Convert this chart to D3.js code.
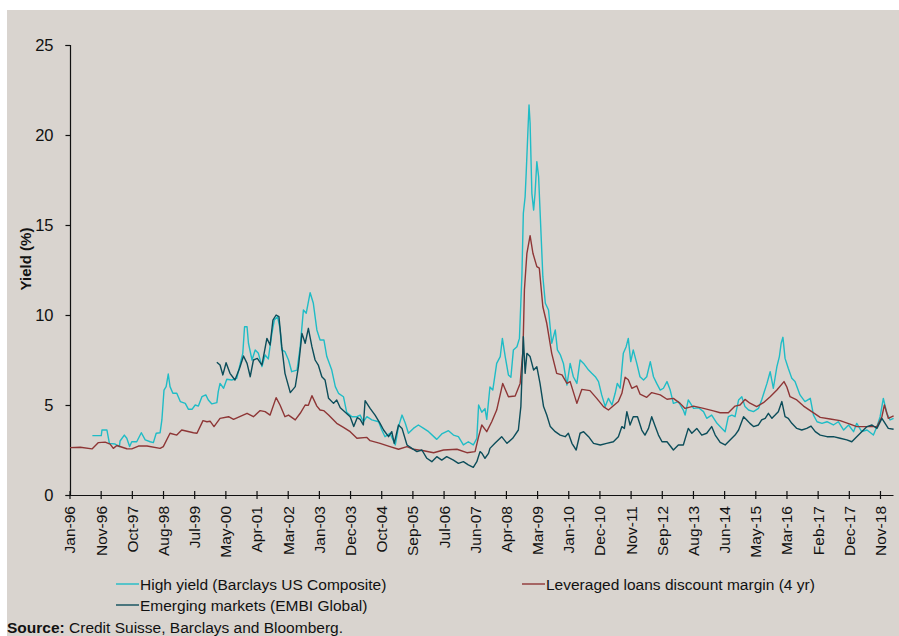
<!DOCTYPE html>
<html>
<head>
<meta charset="utf-8">
<script src="https://cdn.jsdelivr.net/npm/d3@7"></script>
<style>
  html, body { margin: 0; padding: 0; background: #ffffff; }
  svg { display: block; }
  text { font-family: "Liberation Sans", Arial, Helvetica, sans-serif; fill: #111; }
</style>
</head>
<body>
<svg id="chart" width="899" height="636"></svg>
<script>
// Axis tick labels (Excel-style date axis: one major tick every 321 days)
const tickLabels = ["Jan-96","Nov-96","Oct-97","Aug-98","Jul-99","May-00","Apr-01","Mar-02",
  "Jan-03","Dec-03","Oct-04","Sep-05","Jul-06","Jun-07","Apr-08","Mar-09","Jan-10","Dec-10",
  "Nov-11","Sep-12","Aug-13","Jun-14","May-15","Mar-16","Feb-17","Dec-17","Nov-18"];
const tickStepDays = 321;
const yTicks = [0, 5, 10, 15, 20, 25];

// Series: [decimal year, yield %]
const highYield = [
  [1996.66,3.30],[1996.91,3.30],[1996.93,3.61],[1997.07,3.61],[1997.14,2.87],[1997.30,2.83],
  [1997.42,2.69],[1997.44,3.00],[1997.56,3.33],[1997.63,3.15],[1997.71,2.69],[1997.77,2.96],
  [1997.91,2.96],[1998.04,3.46],[1998.15,3.06],[1998.29,2.96],[1998.38,2.91],[1998.46,3.43],
  [1998.57,3.46],[1998.62,4.17],[1998.68,5.83],[1998.74,6.02],[1998.80,6.72],[1998.85,6.02],
  [1998.93,5.65],[1999.04,5.65],[1999.14,5.19],[1999.28,5.09],[1999.37,4.76],[1999.47,4.76],
  [1999.56,5.00],[1999.65,4.94],[1999.75,5.46],[1999.86,5.56],[1999.93,5.28],[2000.03,5.06],
  [2000.17,5.13],[2000.21,5.74],[2000.26,6.20],[2000.36,5.93],[2000.45,6.43],[2000.59,6.39],
  [2000.73,6.48],[2000.83,7.31],[2000.90,7.87],[2000.95,9.35],[2001.02,9.35],[2001.06,8.43],
  [2001.16,7.50],[2001.25,8.06],[2001.34,7.87],[2001.44,7.13],[2001.53,7.78],[2001.62,7.56],
  [2001.72,8.98],[2001.79,9.72],[2001.88,9.91],[2001.95,9.26],[2002.00,8.06],[2002.09,7.96],
  [2002.19,7.50],[2002.28,6.85],[2002.43,6.94],[2002.52,8.24],[2002.61,10.28],[2002.69,10.10],
  [2002.80,11.24],[2002.89,10.65],[2002.99,9.17],[2003.08,8.61],[2003.19,8.61],[2003.27,7.69],
  [2003.41,6.94],[2003.51,6.02],[2003.60,5.65],[2003.74,5.46],[2003.83,4.60],[2003.98,4.35],
  [2004.12,4.35],[2004.21,4.44],[2004.30,4.07],[2004.40,4.35],[2004.54,4.17],[2004.73,4.07],
  [2004.82,3.61],[2004.91,3.24],[2005.05,3.43],[2005.20,2.78],[2005.29,3.80],[2005.39,4.44],
  [2005.48,4.00],[2005.57,3.43],[2005.71,3.70],[2005.85,3.89],[2006.00,3.70],[2006.14,3.52],
  [2006.37,3.09],[2006.51,3.39],[2006.70,3.57],[2006.84,3.33],[2006.98,3.24],[2007.12,2.78],
  [2007.26,2.96],[2007.40,2.78],[2007.50,3.15],[2007.55,5.00],[2007.64,4.60],[2007.73,4.80],
  [2007.78,4.20],[2007.87,6.00],[2007.95,5.83],[2008.06,7.31],[2008.16,7.69],[2008.22,8.70],
  [2008.30,7.69],[2008.39,6.67],[2008.46,6.54],[2008.53,8.06],[2008.63,8.24],[2008.70,8.70],
  [2008.77,12.22],[2008.81,15.65],[2008.86,16.57],[2008.89,17.87],[2008.94,20.28],[2008.97,21.67],
  [2009.00,20.65],[2009.05,16.76],[2009.10,15.83],[2009.14,16.76],[2009.19,18.52],[2009.24,17.69],
  [2009.28,15.83],[2009.36,12.13],[2009.43,10.65],[2009.52,10.28],[2009.61,8.43],[2009.71,9.17],
  [2009.77,8.06],[2009.85,7.80],[2009.94,7.31],[2010.04,6.11],[2010.13,7.31],[2010.22,6.57],
  [2010.32,6.20],[2010.41,7.50],[2010.51,7.31],[2010.65,6.94],[2010.74,6.76],[2010.84,6.57],
  [2010.93,6.30],[2011.02,5.56],[2011.12,4.91],[2011.21,5.37],[2011.31,5.00],[2011.40,5.65],
  [2011.46,6.20],[2011.54,5.93],[2011.63,7.87],[2011.71,8.24],[2011.77,8.70],[2011.84,7.41],
  [2011.91,8.06],[2012.01,7.31],[2012.10,6.57],[2012.20,6.39],[2012.29,6.57],[2012.39,7.41],
  [2012.48,6.57],[2012.57,6.20],[2012.67,5.83],[2012.76,5.93],[2012.86,6.30],[2012.95,5.83],
  [2013.04,5.09],[2013.18,5.19],[2013.32,4.72],[2013.37,4.44],[2013.46,5.28],[2013.61,4.81],
  [2013.75,4.85],[2013.89,4.63],[2013.98,4.26],[2014.12,4.44],[2014.27,3.98],[2014.41,3.70],
  [2014.50,3.52],[2014.59,4.35],[2014.69,4.44],[2014.78,4.35],[2014.88,5.28],[2014.97,5.46],
  [2015.06,4.91],[2015.16,4.72],[2015.30,4.63],[2015.44,4.81],[2015.53,5.28],[2015.68,6.20],
  [2015.77,6.85],[2015.86,5.93],[2015.96,7.13],[2016.03,7.69],[2016.08,8.43],[2016.13,8.76],
  [2016.19,7.59],[2016.28,7.04],[2016.38,6.48],[2016.47,6.30],[2016.61,5.56],[2016.75,5.19],
  [2016.90,5.37],[2016.99,4.44],[2017.09,4.07],[2017.23,3.98],[2017.37,4.07],[2017.55,3.89],
  [2017.69,4.07],[2017.84,3.61],[2017.98,3.89],[2018.12,3.52],[2018.21,3.98],[2018.35,3.52],
  [2018.50,3.61],[2018.68,3.33],[2018.78,3.80],[2018.87,4.35],[2018.96,5.37],[2019.06,4.54],
  [2019.15,4.17],[2019.25,4.26]
];

const leveragedLoans = [
  [1996.03,2.63],[1996.32,2.65],[1996.65,2.56],[1996.83,2.91],[1997.02,2.94],[1997.16,2.83],
  [1997.25,2.59],[1997.35,2.75],[1997.63,2.57],[1997.77,2.56],[1997.96,2.72],[1998.20,2.72],
  [1998.57,2.59],[1998.66,2.69],[1998.85,3.43],[1999.04,3.33],[1999.18,3.61],[1999.51,3.46],
  [1999.61,3.43],[1999.78,4.13],[1999.89,4.07],[1999.98,4.10],[2000.09,3.80],[2000.26,4.26],
  [2000.50,4.35],[2000.64,4.20],[2001.02,4.54],[2001.20,4.35],[2001.39,4.69],[2001.53,4.63],
  [2001.67,4.44],[2001.84,5.41],[2001.95,5.00],[2002.09,4.35],[2002.19,4.44],[2002.38,4.17],
  [2002.52,4.54],[2002.66,5.00],[2002.75,4.98],[2002.85,5.52],[2002.99,4.94],[2003.08,4.72],
  [2003.18,4.69],[2003.32,4.44],[2003.55,3.98],[2003.74,3.76],[2003.93,3.52],[2004.12,3.15],
  [2004.40,3.20],[2004.49,3.02],[2004.77,2.87],[2005.05,2.69],[2005.29,2.54],[2005.53,2.69],
  [2005.71,2.54],[2006.00,2.46],[2006.28,2.35],[2006.56,2.50],[2006.94,2.54],[2007.22,2.35],
  [2007.45,2.41],[2007.55,3.24],[2007.64,3.89],[2007.78,3.52],[2007.92,4.07],[2008.06,4.72],
  [2008.23,6.20],[2008.39,5.46],[2008.58,5.50],[2008.72,6.20],[2008.80,8.06],[2008.84,11.40],
  [2008.91,13.43],[2009.00,14.41],[2009.08,13.43],[2009.19,12.69],[2009.26,12.60],[2009.36,10.46],
  [2009.47,9.54],[2009.61,7.87],[2009.75,6.76],[2009.90,6.67],[2010.04,6.20],[2010.13,6.30],
  [2010.32,5.09],[2010.46,5.87],[2010.69,5.80],[2010.88,5.37],[2011.07,4.91],[2011.21,4.72],
  [2011.49,5.19],[2011.59,5.65],[2011.68,6.54],[2011.77,6.40],[2011.87,5.93],[2012.01,6.06],
  [2012.10,5.61],[2012.29,5.43],[2012.43,5.69],[2012.67,5.56],[2012.86,5.32],[2013.04,5.37],
  [2013.23,5.09],[2013.37,4.81],[2013.61,4.94],[2013.89,4.81],[2014.17,4.67],[2014.36,4.57],
  [2014.59,4.57],[2014.78,4.94],[2014.92,5.00],[2015.06,5.31],[2015.20,5.10],[2015.39,4.91],
  [2015.58,5.13],[2015.77,5.46],[2015.96,5.83],[2016.16,6.30],[2016.24,6.00],[2016.33,5.46],
  [2016.52,5.28],[2016.71,4.94],[2016.94,4.63],[2017.18,4.31],[2017.46,4.22],[2017.74,4.13],
  [2018.02,3.94],[2018.21,3.80],[2018.50,3.80],[2018.78,3.80],[2018.92,4.35],[2018.99,5.00],
  [2019.10,4.26],[2019.25,4.40]
];

const emergingMarkets = [
  [2000.17,7.38],[2000.26,7.22],[2000.34,6.67],[2000.43,7.35],[2000.54,6.76],[2000.68,6.39],
  [2000.81,7.04],[2000.92,7.72],[2001.02,7.31],[2001.11,6.57],[2001.20,7.50],[2001.31,7.59],
  [2001.44,7.22],[2001.58,8.70],[2001.67,8.33],[2001.75,9.72],[2001.84,10.00],[2001.92,9.91],
  [2002.00,8.24],[2002.09,6.76],[2002.24,5.69],[2002.38,6.02],[2002.47,7.13],[2002.57,8.98],
  [2002.66,8.43],[2002.75,9.26],[2002.85,8.24],[2002.94,7.50],[2003.03,7.22],[2003.13,6.57],
  [2003.22,6.39],[2003.32,5.37],[2003.46,5.09],[2003.55,5.28],[2003.65,4.85],[2003.79,4.60],
  [2003.93,4.35],[2004.03,3.80],[2004.13,4.30],[2004.21,4.20],[2004.30,3.89],[2004.35,5.24],
  [2004.49,4.81],[2004.63,4.44],[2004.77,3.98],[2004.87,3.61],[2005.01,3.24],[2005.10,3.52],
  [2005.17,2.87],[2005.29,3.89],[2005.39,3.70],[2005.53,2.78],[2005.67,2.59],[2005.81,2.41],
  [2005.95,2.50],[2006.09,2.04],[2006.23,1.85],[2006.37,2.13],[2006.51,1.94],[2006.65,2.13],
  [2006.84,1.94],[2006.98,1.76],[2007.12,1.85],[2007.26,1.67],[2007.40,1.54],[2007.50,1.85],
  [2007.59,2.41],[2007.65,2.30],[2007.73,2.04],[2007.83,2.31],[2007.87,2.59],[2008.01,2.87],
  [2008.20,3.24],[2008.35,2.87],[2008.51,3.15],[2008.67,3.61],[2008.74,4.91],[2008.78,7.13],
  [2008.81,8.80],[2008.86,6.76],[2008.91,7.87],[2009.00,7.69],[2009.10,6.94],[2009.19,7.13],
  [2009.28,6.20],[2009.38,4.91],[2009.47,4.44],[2009.57,3.80],[2009.71,3.52],[2009.85,3.33],
  [2009.99,3.24],[2010.08,3.43],[2010.18,2.87],[2010.30,2.50],[2010.41,3.43],[2010.51,3.52],
  [2010.65,3.24],[2010.79,2.87],[2010.98,2.78],[2011.16,2.87],[2011.35,2.96],[2011.49,3.24],
  [2011.59,3.80],[2011.66,3.70],[2011.73,4.63],[2011.82,3.89],[2011.91,4.35],[2012.03,4.35],
  [2012.15,3.61],[2012.24,3.33],[2012.34,3.70],[2012.43,4.35],[2012.53,3.80],[2012.62,3.33],
  [2012.72,2.96],[2012.86,2.96],[2013.04,2.50],[2013.18,2.78],[2013.32,2.78],[2013.46,3.70],
  [2013.56,3.43],[2013.70,3.70],[2013.84,3.33],[2013.98,3.43],[2014.12,3.80],[2014.22,3.33],
  [2014.36,2.92],[2014.50,2.78],[2014.64,3.06],[2014.78,3.33],[2014.88,3.61],[2015.02,4.35],
  [2015.11,4.17],[2015.20,3.98],[2015.30,3.80],[2015.44,3.89],[2015.53,4.17],[2015.63,4.26],
  [2015.72,4.54],[2015.82,4.26],[2015.91,4.44],[2016.00,4.63],[2016.10,5.19],[2016.19,4.35],
  [2016.28,4.26],[2016.38,3.98],[2016.52,3.70],[2016.66,3.61],[2016.80,3.70],[2016.92,3.83],
  [2017.04,3.52],[2017.18,3.33],[2017.37,3.24],[2017.55,3.24],[2017.74,3.15],[2017.93,3.06],
  [2018.07,2.96],[2018.21,3.24],[2018.35,3.52],[2018.50,3.80],[2018.64,3.89],[2018.78,3.70],
  [2018.92,4.26],[2019.01,3.98],[2019.10,3.70],[2019.25,3.65]
];

const seriesNames = ["High yield (Barclays US Composite)", "Leveraged loans discount margin (4 yr)", "Emerging markets (EMBI Global)"];
const seriesColors = ["#1fbcc6", "#8e3636", "#0c4d5a"];

// ---- helpers ----
function fromDecimalYear(v) {
  const yr = Math.floor(v);
  const s = new Date(yr, 0, 1), e = new Date(yr + 1, 0, 1);
  return new Date(+s + (v - yr) * (e - s));
}

const svg = d3.select("#chart");
const W = 899, H = 636;

// panel background
svg.append("rect").attr("x", 0).attr("y", 0).attr("width", W).attr("height", H).attr("fill", "#ffffff");
svg.append("rect").attr("x", 7).attr("y", 10).attr("width", W - 7).attr("height", H - 10).attr("fill", "#d9d4cf");

const axisStart = new Date(1996, 0, 7);
const axisEnd = new Date(2019, 2, 27);
const x = d3.scaleTime().domain([axisStart, axisEnd]).range([69.5, 893]);
const y = d3.scaleLinear().domain([0, 25]).range([495, 45]);

const tickDates = tickLabels.map((_, i) => d3.timeDay.offset(axisStart, i * tickStepDays));

// Y axis
const yAxis = d3.axisLeft(y).tickValues(yTicks).tickSize(4.5).tickPadding(12).tickFormat(d3.format("d"));
const gy = svg.append("g").attr("transform", "translate(70,0)").call(yAxis);
gy.select(".domain").attr("stroke", "#111").attr("stroke-width", 1.2);
gy.selectAll(".tick line").attr("stroke", "#111").attr("stroke-width", 1.2);
gy.selectAll(".tick text").attr("font-size", "16.5px").attr("font-family", "Liberation Sans, Arial, sans-serif").attr("fill", "#111");

// X axis (ticks cross the axis line)
const xAxis = d3.axisBottom(x).tickValues(tickDates).tickSize(4).tickSizeOuter(0)
  .tickFormat((d, i) => tickLabels[i]);
const gx = svg.append("g").attr("transform", "translate(0,495)").call(xAxis);
gx.select(".domain").attr("stroke", "#111").attr("stroke-width", 1.2);
gx.selectAll(".tick line").attr("y1", -4).attr("y2", 4).attr("stroke", "#111").attr("stroke-width", 1.2);
gx.selectAll(".tick text")
  .attr("font-size", "15.5px").attr("font-family", "Liberation Sans, Arial, sans-serif").attr("fill", "#111")
  .attr("text-anchor", "end")
  .attr("transform", "translate(0,11) rotate(-90)")
  .attr("x", 0).attr("y", 0).attr("dy", "0.35em");

// Y axis title
svg.append("text")
  .attr("transform", "translate(31,259) rotate(-90)")
  .attr("text-anchor", "middle")
  .attr("font-size", "15px").attr("font-weight", "bold")
  .text("Yield (%)");

// lines
const line = d3.line().x(d => x(fromDecimalYear(d[0]))).y(d => y(d[1])).curve(d3.curveLinear);
[highYield, leveragedLoans, emergingMarkets].forEach((data, i) => {
  svg.append("path").datum(data)
    .attr("fill", "none").attr("stroke", seriesColors[i]).attr("stroke-width", 1.4)
    .attr("stroke-linejoin", "round")
    .attr("d", line);
});

// legend
const legendItems = [
  { i: 0, lx: 116, ly: 584 },
  { i: 1, lx: 522, ly: 584 },
  { i: 2, lx: 116, ly: 605 }
];
legendItems.forEach(it => {
  svg.append("line").attr("x1", it.lx).attr("x2", it.lx + 23).attr("y1", it.ly).attr("y2", it.ly)
    .attr("stroke", seriesColors[it.i]).attr("stroke-width", 1.4);
  svg.append("text").attr("x", it.lx + 24).attr("y", it.ly).attr("dy", "0.36em")
    .attr("font-size", "15.5px").text(seriesNames[it.i]);
});

// source note
const src = svg.append("text").attr("x", 7).attr("y", 627).attr("dy", "0.36em").attr("font-size", "15.5px");
src.append("tspan").attr("font-weight", "bold").text("Source:");
src.append("tspan").text(" Credit Suisse, Barclays and Bloomberg.");
</script>
</body>
</html>
